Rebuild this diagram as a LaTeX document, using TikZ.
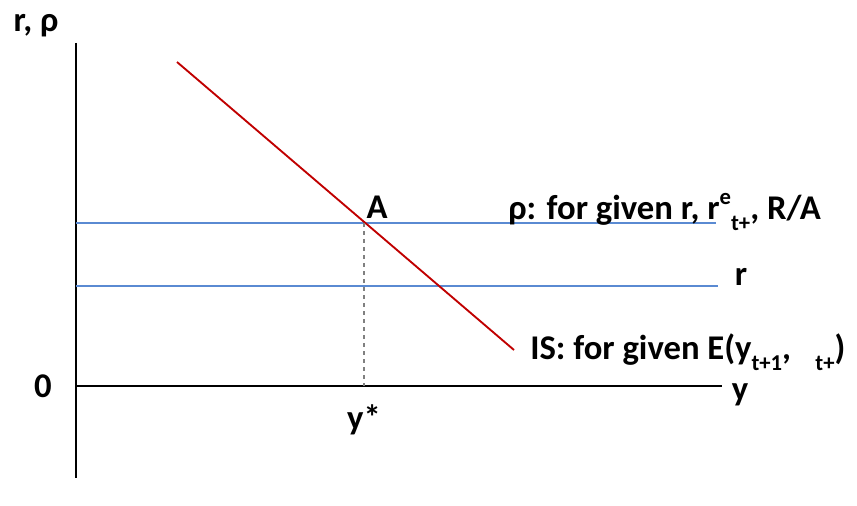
\documentclass[tikz,border=0pt]{standalone}
\usepackage{fontspec}
\setmainfont{Carlito}
\usetikzlibrary{positioning}
\definecolor{IS_Red}{HTML}{C00000}
\definecolor{Rate_Blue}{HTML}{5A8AD2}
% raised and lowered indices in text
\newcommand{\upidx}[1]{\raisebox{0.42em}{\fontsize{17}{18}\selectfont #1}}
\newcommand{\lowidx}[1]{\raisebox{-0.32em}{\fontsize{17}{18}\selectfont #1}}

\begin{document}
\begin{tikzpicture}[x=0.75pt, y=-0.75pt,
    lbl/.style={font=\bfseries\fontsize{26}{30}\selectfont, inner sep=0pt}]
    \useasboundingbox (0,0) rectangle (857,506);

    % Axes
    \coordinate (O) at (76,386);
    \coordinate (yTop) at (76,43);
    \coordinate (yBot) at (76,478);
    \coordinate (xEnd) at (722,386);
    \draw[line width=1.8pt] (yTop) -- (yBot);
    \draw[line width=1.8pt] (O) -- (xEnd);

    % Rate lines
    \coordinate (rhoL) at (76,223);
    \coordinate (rhoR) at (716,223);
    \coordinate (rL) at (76,286);
    \coordinate (rR) at (718,286);
    \draw[Rate_Blue, line width=1.4pt] (rhoL) -- (rhoR);
    \draw[Rate_Blue, line width=1.4pt] (rL) -- (rR);

    % IS curve
    \coordinate (isTop) at (177,62);
    \coordinate (isBot) at (514,350);
    \draw[IS_Red, line width=1.4pt] (isTop) -- (isBot);

    % Point A and y*
    \coordinate (Apt) at (364,223);
    \draw[gray, dashed, line width=0.9pt] (Apt) -- (Apt |- O);

    % Labels
    \node[lbl] (axLbl) at (36,26) {r, ρ};
    \node[lbl] (A) at (377,207) {A};
    \node[lbl, anchor=west] (rhoLbl) at (508,212) {ρ: for given r, r\upidx{e}\lowidx{t+}, R/A};
    \node[lbl] (rLbl) at (741,277) {r};
    \node[lbl, anchor=west] (isLbl) at (530,352) {IS: for given E(y\lowidx{t+1},\hspace{0.7em}\lowidx{t+})};
    \node[lbl] (zero) at (43,386) {0};
    \node[lbl] (yLbl) at (740,395) {y};
    \node[lbl] (yStar) at (364,420) {y*};
\end{tikzpicture}
\end{document}
